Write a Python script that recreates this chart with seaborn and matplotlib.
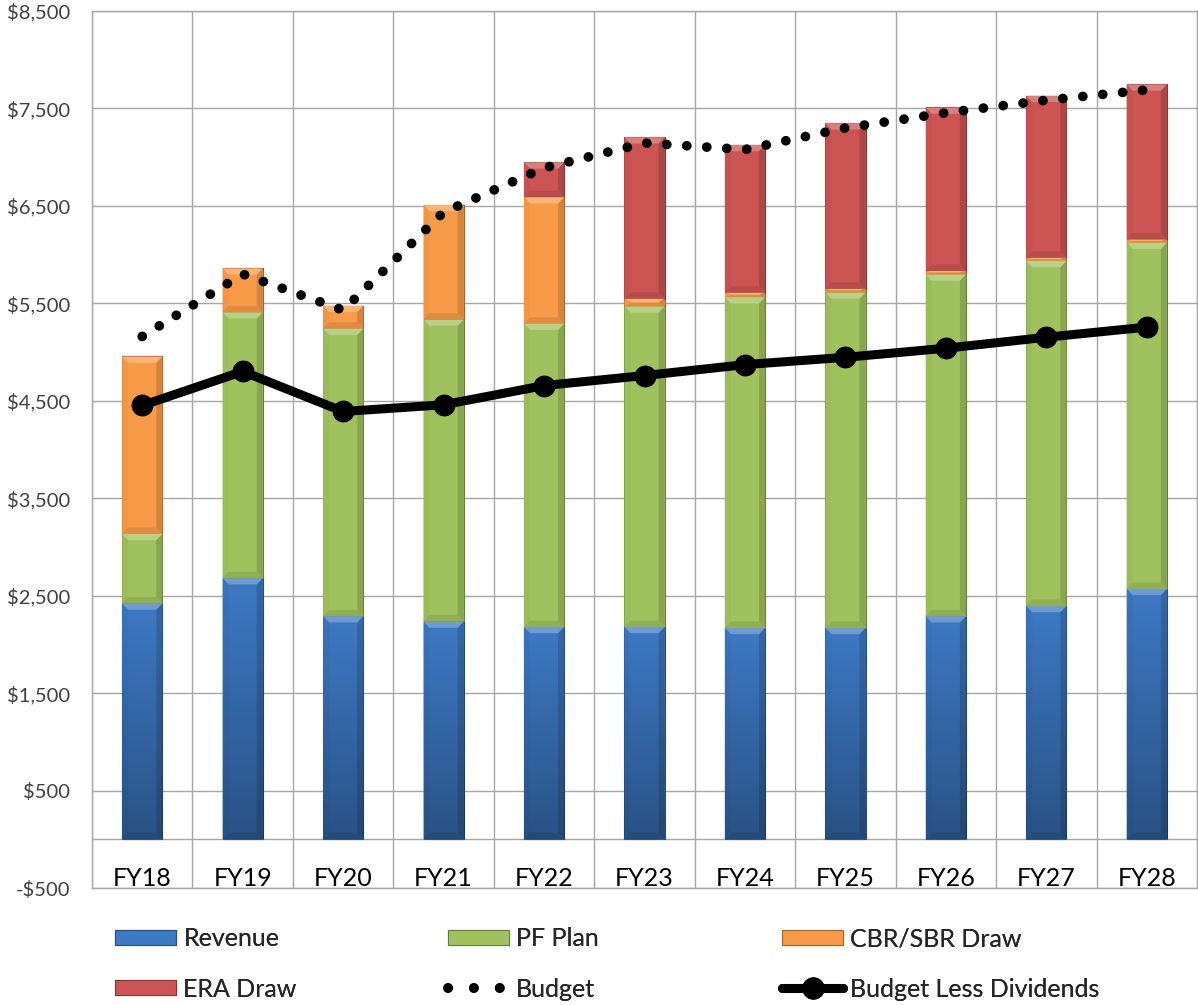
import numpy as np
import pandas as pd
import matplotlib
matplotlib.use("Agg")
import matplotlib.pyplot as plt
import matplotlib.colors as mcolors
from matplotlib.patches import Polygon, Rectangle
from matplotlib.lines import Line2D
from matplotlib.ticker import FuncFormatter
import seaborn as sns

# ---- data ($ millions) ----
years = ["FY18", "FY19", "FY20", "FY21", "FY22", "FY23",
         "FY24", "FY25", "FY26", "FY27", "FY28"]
revenue = [2420, 2680, 2290, 2235, 2180, 2180, 2170, 2170, 2290, 2395, 2570]
pf_plan = [714, 2729, 2950, 3100, 3112, 3290, 3394, 3443, 3508, 3540, 3553]
cbr_sbr_draw = [1821, 451, 235, 1174, 1298, 78, 46, 37, 34, 34, 34]
era_draw = [0, 0, 0, 0, 358, 1657, 1516, 1699, 1678, 1661, 1590]
budget = [5160, 5800, 5430, 6435, 6890, 7145, 7078, 7300, 7455, 7585, 7690]
budget_less_dividends = [4452, 4801, 4390, 4459, 4656, 4759, 4871, 4946, 5039, 5152, 5256]
y_ticks = list(range(-500, 8501, 1000))

sns.set_style("white")
plt.rcParams["font.family"] = ["Lato", "DejaVu Sans"]

GRID = "#A6A6A6"
COLORS = {
    "Revenue": "#3D79C4",
    "PF Plan": "#A0C25E",
    "CBR/SBR Draw": "#F89B48",
    "ERA Draw": "#CC5452",
}


def shade(c, f):
    """Lighten toward white (f > 0) or darken toward black (f < 0)."""
    r = np.array(mcolors.to_rgb(c))
    return tuple(r + (1 - r) * f) if f > 0 else tuple(r * (1 + f))


fig = plt.figure(figsize=(11.98, 10.05), dpi=100)
ax = fig.add_axes([92 / 1198, 117 / 1005, 1105 / 1198, 877 / 1005])

pos = np.arange(len(years))
df = pd.DataFrame({
    "pos": pos,
    "Revenue": revenue,
    "PF Plan": pf_plan,
    "CBR/SBR Draw": cbr_sbr_draw,
    "ERA Draw": era_draw,
})


def bevel(patch, color, gradient=False):
    x0, y0 = patch.get_x(), patch.get_y()
    w, h = patch.get_width(), patch.get_height()
    if h <= 0:
        return
    d = 0.06
    hb = min(65.0, h * 0.45)
    top = y0 + h
    # lit top face
    ax.add_patch(Polygon([(x0, top), (x0 + w, top), (x0 + w - d, top - hb), (x0 + d, top - hb)],
                         closed=True, fc=shade(color, 0.25), ec="none", zorder=3.5))
    # shaded bottom face
    ax.add_patch(Polygon([(x0, y0), (x0 + w, y0), (x0 + w - d, y0 + hb), (x0 + d, y0 + hb)],
                         closed=True, fc=shade(color, -0.1), ec="none", zorder=3.5))
    # side faces
    ax.add_patch(Polygon([(x0, y0), (x0 + d, y0 + hb), (x0 + d, top - hb), (x0, top)],
                         closed=True, fc=shade(color, -0.03), ec="none", zorder=3.4))
    ax.add_patch(Polygon([(x0 + w, y0), (x0 + w - d, y0 + hb), (x0 + w - d, top - hb), (x0 + w, top)],
                         closed=True, fc=shade(color, -0.15), ec="none", zorder=3.4))
    if gradient:
        g = np.zeros((64, 1, 4))
        g[:, 0, 3] = np.linspace(0.0, 0.32, 64)
        im = ax.imshow(g, extent=[x0, x0 + w, y0, top], origin="upper",
                       aspect="auto", zorder=3.6, interpolation="bilinear")
        im.set_clip_path(patch)


bottom = np.zeros(len(years))
for name, color in COLORS.items():
    n_before = len(ax.patches)
    sns.barplot(data=df, x="pos", y=name, bottom=bottom, native_scale=True,
                width=0.4, color=color, saturation=1, errorbar=None,
                edgecolor=shade(color, -0.35), linewidth=0.8, ax=ax, zorder=3)
    for p in list(ax.patches[n_before:n_before + len(years)]):
        bevel(p, color, gradient=(name == "Revenue"))
    bottom = bottom + df[name].to_numpy()

# Budget (dotted) and Budget Less Dividends (heavy line with markers)
sns.lineplot(x=pos, y=budget, ax=ax, color="black", linewidth=7,
             linestyle=(0, (0.01, 2.05)), dash_capstyle="round",
             zorder=6, legend=False)
sns.lineplot(x=pos, y=budget_less_dividends, ax=ax, color="black", linewidth=6.5,
             marker="o", markersize=15, markeredgecolor="black",
             markerfacecolor="black", zorder=7, legend=False)

# axes, grid, ticks
ax.set_xlim(-0.5, len(years) - 0.5)
ax.set_ylim(-500, 8500)
ax.set_yticks(y_ticks)
ax.yaxis.set_major_formatter(FuncFormatter(
    lambda v, _: f"-${abs(v):,.0f}" if v < 0 else f"${v:,.0f}"))
ax.set_xticks(np.arange(-0.5, len(years), 1.0))
ax.set_xticklabels([])
ax.set_xlabel("")
ax.set_ylabel("")
ax.grid(True, color=GRID, linewidth=1.0)
ax.set_axisbelow(True)
ax.axhline(0, color=GRID, linewidth=1.0, zorder=1)
ax.tick_params(axis="both", length=0)
ax.tick_params(axis="y", labelsize=14.5, labelcolor="#404040", pad=16)
for s in ax.spines.values():
    s.set_color(GRID)
    s.set_linewidth(1.0)

for i, yr in enumerate(years):
    ax.text(pos[i], -398, yr, ha="center", va="center", fontsize=18, color="black")

# legend: three columns of two entries
def patch_handle(c):
    return Rectangle((0, 0), 1, 1, fc=c, ec=shade(c, -0.35), lw=0.8)

budget_handle = Line2D([], [], color="black", linewidth=7,
                       linestyle=(0, (0.01, 2.65)), dash_capstyle="round")
bld_handle = Line2D([], [], color="black", linewidth=6.5, marker="o",
                    markersize=15, markerfacecolor="black", markeredgecolor="black")

columns = [
    (115, [patch_handle(COLORS["Revenue"]), patch_handle(COLORS["ERA Draw"])],
     ["Revenue", "ERA Draw"]),
    (448, [patch_handle(COLORS["PF Plan"]), budget_handle], ["PF Plan", "Budget"]),
    (782, [patch_handle(COLORS["CBR/SBR Draw"]), bld_handle],
     ["CBR/SBR Draw", "Budget Less Dividends"]),
]
for x_px, handles, labels in columns:
    leg = fig.legend(handles, labels, loc="upper left",
                     bbox_to_anchor=(x_px / 1198, 1 - 927 / 1005),
                     frameon=False, fontsize=18, borderpad=0, borderaxespad=0,
                     handlelength=2.45, handleheight=0.56, handletextpad=0.28,
                     labelspacing=1.1, numpoints=1)
    fig.add_artist(leg)

fig.savefig("out.png", dpi=100)
